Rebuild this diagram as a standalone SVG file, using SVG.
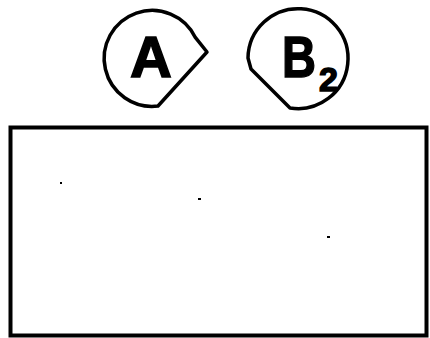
<svg xmlns="http://www.w3.org/2000/svg" width="430" height="338" viewBox="0 0 430 338">
<style>
.shape{fill:#fff;stroke:#000;stroke-width:3.5;stroke-linejoin:round}
.lbl{font-family:"Liberation Sans",Arial,sans-serif;font-weight:bold;fill:#000;stroke:#000;stroke-width:1.5}
.box{fill:#fff;stroke:#000;stroke-width:4}
.dot{fill:#000}
</style>
<rect width="430" height="338" fill="#fff"/>
<g id="box">
<rect class="box" x="10.5" y="127.5" width="416" height="208"/>
<rect class="dot" x="60" y="182" width="2" height="2"/>
<rect class="dot" x="198" y="198" width="3" height="2"/>
<rect class="dot" x="327" y="236" width="3" height="2"/>
</g>
<g id="connectors"></g>
<g id="nodeA">
<path class="shape" d="M158,106 A48,48 0 1 1 195.5,37.7 L207,52 Z"/>
<text class="lbl" x="151" y="77" font-size="58" text-anchor="middle">A</text>
</g>
<g id="nodeB2">
<path class="shape" d="M251,69 L290,108 A50,50 0 1 0 248,58 Z"/>
<text class="lbl" x="282" y="77" font-size="58" textLength="34" lengthAdjust="spacingAndGlyphs">B</text>
<text class="lbl" x="319" y="91" font-size="34">2</text>
</g>
</svg>
